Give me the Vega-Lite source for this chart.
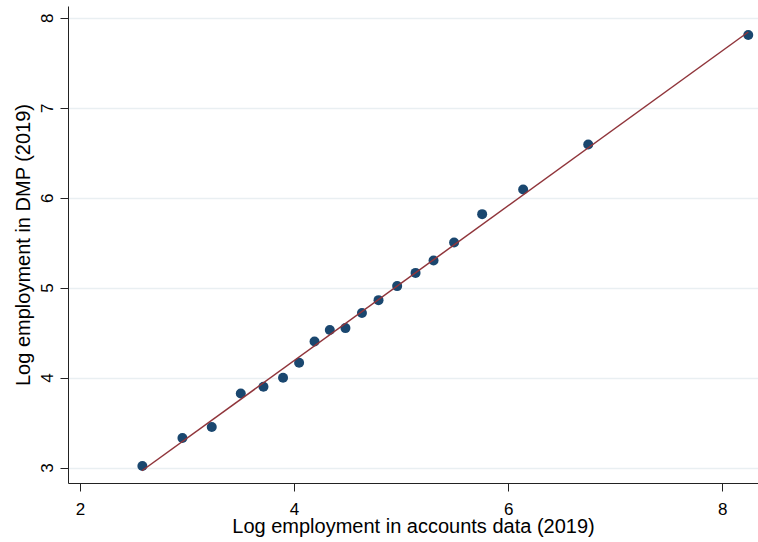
{
  "$schema": "https://vega.github.io/schema/vega-lite/v6.json",
  "width": 690,
  "height": 477,
  "autosize": {"type": "none"},
  "padding": {"left": 68, "top": 6, "right": 0, "bottom": 59},
  "background": "white",
  "datasets": {
    "points": [
      {"acc": 2.583, "dmp": 3.017},
      {"acc": 2.957, "dmp": 3.328},
      {"acc": 3.231, "dmp": 3.450},
      {"acc": 3.502, "dmp": 3.824},
      {"acc": 3.714, "dmp": 3.898},
      {"acc": 3.897, "dmp": 3.998},
      {"acc": 4.047, "dmp": 4.164},
      {"acc": 4.191, "dmp": 4.402},
      {"acc": 4.334, "dmp": 4.528},
      {"acc": 4.480, "dmp": 4.550},
      {"acc": 4.634, "dmp": 4.717},
      {"acc": 4.789, "dmp": 4.861},
      {"acc": 4.963, "dmp": 5.017},
      {"acc": 5.135, "dmp": 5.164},
      {"acc": 5.303, "dmp": 5.302},
      {"acc": 5.495, "dmp": 5.502},
      {"acc": 5.757, "dmp": 5.817},
      {"acc": 6.140, "dmp": 6.091},
      {"acc": 6.748, "dmp": 6.591},
      {"acc": 8.243, "dmp": 7.809}
    ],
    "fit": [
      {"acc": 2.579, "fitted": 2.964},
      {"acc": 8.243, "fitted": 7.842}
    ]
  },
  "layer": [
    {
      "data": {"name": "points"},
      "mark": {"type": "point", "shape": "circle", "filled": true, "size": 100, "color": "#1a476f", "opacity": 1},
      "encoding": {
        "x": {
          "field": "acc",
          "type": "quantitative",
          "scale": {"domain": [1.888, 8.334], "nice": false, "zero": false},
          "axis": {
            "title": "Log employment in accounts data (2019)",
            "values": [2, 4, 6, 8],
            "format": "d",
            "grid": false,
            "labelBaseline": "alphabetic",
            "labelPadding": 23,
            "titleBaseline": "alphabetic",
            "titleY": 49
          }
        },
        "y": {
          "field": "dmp",
          "type": "quantitative",
          "scale": {"domain": [2.828, 8.131], "nice": false, "zero": false},
          "axis": {
            "title": "Log employment in DMP (2019)",
            "values": [3, 4, 5, 6, 7, 8],
            "format": "d",
            "grid": true,
            "labelAngle": 270,
            "labelAlign": "center",
            "labelBaseline": "alphabetic",
            "labelPadding": 8,
            "titleAngle": 270,
            "titleBaseline": "alphabetic",
            "titleX": -39
          }
        }
      }
    },
    {
      "data": {"name": "fit"},
      "mark": {"type": "line", "color": "#90353b", "strokeWidth": 1.5},
      "encoding": {
        "x": {"field": "acc", "type": "quantitative"},
        "y": {"field": "fitted", "type": "quantitative"}
      }
    }
  ],
  "config": {
    "view": {"stroke": null},
    "font": "Liberation Sans",
    "axis": {
      "domainColor": "#222222",
      "domainWidth": 1,
      "tickColor": "#222222",
      "tickSize": 8,
      "tickWidth": 1,
      "labelFont": "Liberation Sans",
      "labelFontSize": 17,
      "labelColor": "black",
      "titleFont": "Liberation Sans",
      "titleFontSize": 20,
      "titleFontWeight": "normal",
      "titleColor": "black",
      "gridColor": "#e9eff2",
      "gridWidth": 1.5
    }
  }
}
